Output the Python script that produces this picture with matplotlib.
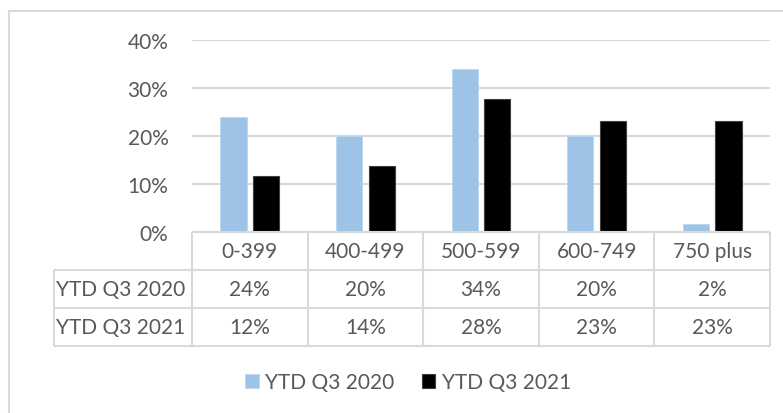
import matplotlib.pyplot as plt
from matplotlib.patches import Rectangle

# ---------------------------------------------
# Data
# ---------------------------------------------
categories = ["0-399", "400-499", "500-599", "600-749", "750 plus"]
series_names = ["YTD Q3 2020", "YTD Q3 2021"]
values_2020 = [0.24, 0.20, 0.34, 0.20, 0.017]
values_2021 = [0.116, 0.138, 0.277, 0.231, 0.231]
labels_2020 = ["24%", "20%", "34%", "20%", "2%"]
labels_2021 = ["12%", "14%", "28%", "23%", "23%"]
yticks = [0, 0.1, 0.2, 0.3, 0.4]
ytick_labels = ["0%", "10%", "20%", "30%", "40%"]

BLUE = "#9DC3E6"
GRID = "#D9D9D9"
TXT = "#595959"
FS = 15

plt.rcParams["font.family"] = ["Lato", "DejaVu Sans"]

W, H = 783, 414
fig = plt.figure(figsize=(W / 100, H / 100), dpi=100)


def px(x0, y0, x1, y1):
    # pixel box (top-left origin) -> figure fraction rect
    return [x0 / W, 1 - y1 / H, (x1 - x0) / W, (y1 - y0) / H]


# outer chart border
fig.add_artist(Rectangle((9 / W, -0.1), 1.2, 1 - 12 / H + 0.1,
                         transform=fig.transFigure, fill=False,
                         edgecolor=GRID, linewidth=1.5))

# ---------------------------------------------
# Bars
# ---------------------------------------------
ax = fig.add_axes(px(192, 41, 770, 233))
x = list(range(len(categories)))
w = 0.225
b1 = ax.bar([i - 0.141 for i in x], values_2020, width=w, color=BLUE,
            edgecolor="#BDD7EE", linewidth=0.6, zorder=3, label=series_names[0])
b2 = ax.bar([i + 0.141 for i in x], values_2021, width=w, color="black",
            edgecolor="#404040", linewidth=0.8, zorder=3, label=series_names[1])
ax.set_xlim(-0.5, 4.5)
ax.set_ylim(0, 0.4)
ax.set_yticks(yticks)
ax.set_yticklabels(ytick_labels, fontsize=FS, color=TXT)
ax.tick_params(axis="y", length=0, pad=17)
ax.set_xticks([])
ax.yaxis.grid(True, color=GRID, linewidth=1.5, zorder=0)
for s in ax.spines.values():
    s.set_visible(False)

# ---------------------------------------------
# Data table
# ---------------------------------------------
col_w = (770 - 192) / 5
left = -0.5 - (192 - 54) / col_w
axt = fig.add_axes(px(54, 233, 770, 347))
axt.set_xlim(left, 4.5)
axt.set_ylim(3, 0)
axt.axis("off")

lw = 1.5
axt.hlines(0, -0.5, 4.5, color=GRID, linewidth=lw, clip_on=False)
axt.hlines([1, 2, 3], left, 4.5, color=GRID, linewidth=lw, clip_on=False)
axt.vlines([i - 0.5 for i in range(len(categories) + 1)], 0, 3,
           color=GRID, linewidth=lw, clip_on=False)
axt.vlines(left, 1, 3, color=GRID, linewidth=lw, clip_on=False)

for i, c in enumerate(categories):
    axt.text(i, 0.5, c, ha="center", va="center", fontsize=FS, color=TXT)
    axt.text(i, 1.5, labels_2020[i], ha="center", va="center", fontsize=FS, color=TXT)
    axt.text(i, 2.5, labels_2021[i], ha="center", va="center", fontsize=FS, color=TXT)
for r, name in enumerate(series_names):
    axt.text(-0.5 - 0.06, 1.5 + r, name, ha="right", va="center",
             fontsize=FS, color=TXT)

# ---------------------------------------------
# Legend
# ---------------------------------------------
fig.legend(handles=[b1, b2], labels=series_names, loc="center",
           bbox_to_anchor=(408 / W, 1 - 383 / H), ncol=2, frameon=False,
           fontsize=FS, labelcolor=TXT, handlelength=0.67, handleheight=0.67,
           handletextpad=0.3, columnspacing=1.3)

fig.savefig("out.png", dpi=100)
